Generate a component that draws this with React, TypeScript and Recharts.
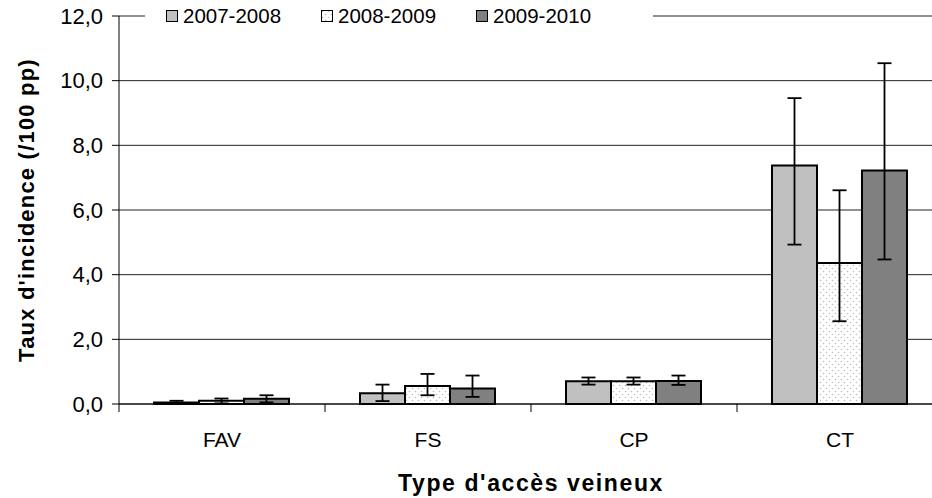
import React from "react";
import {
  BarChart,
  Bar,
  XAxis,
  YAxis,
  CartesianGrid,
  ErrorBar,
  Legend,
} from "recharts";

// Categories (vascular access type) and the three seasons.
const categories = ["FAV", "FS", "CP", "CT"];
const seasons = ["2007-2008", "2008-2009", "2009-2010"];

// Incidence rate (/100 pp) per category, one array per season.
const rate0708 = [0.05, 0.33, 0.7, 7.38];
const rate0809 = [0.1, 0.56, 0.7, 4.36];
const rate0910 = [0.16, 0.48, 0.71, 7.22];

// Confidence interval bounds per season.
const low0708 = [0.01, 0.09, 0.6, 4.93];
const high0708 = [0.1, 0.6, 0.82, 9.46];
const low0809 = [0.02, 0.27, 0.6, 2.56];
const high0809 = [0.17, 0.93, 0.82, 6.61];
const low0910 = [0.05, 0.22, 0.59, 4.47];
const high0910 = [0.27, 0.88, 0.88, 10.54];

const yTicks = [0, 2, 4, 6, 8, 10, 12];

const FONT = "'Liberation Sans', Arial, sans-serif";
const BAND = 206; // width of one category band in px

const fills = ["#c0c0c0", "url(#dots)", "#808080"];

// Build the rows Recharts needs; error bars as [below, above] deltas.
const data = categories.map((cat, i) => ({
  cat,
  s0: rate0708[i],
  s1: rate0809[i],
  s2: rate0910[i],
  e0: [rate0708[i] - low0708[i], high0708[i] - rate0708[i]],
  e1: [rate0809[i] - low0809[i], high0809[i] - rate0809[i]],
  e2: [rate0910[i] - low0910[i], high0910[i] - rate0910[i]],
}));

const fmt = (v: number) => v.toFixed(1).replace(".", ",");

const CatTick = (props: any) => {
  const { x, y, payload } = props;
  const left = x - BAND / 2;
  return (
    <g>
      <line x1={left} y1={y} x2={left} y2={y + 8} stroke="#000" />
      <text x={x} y={y + 43} textAnchor="middle" fontSize={21} fontFamily={FONT} fill="#000">
        {payload.value}
      </text>
    </g>
  );
};

const YTitle = (props: any) => {
  const vb = props.viewBox;
  const cy = vb.y + vb.height / 2;
  const cx = 34;
  return (
    <text
      x={cx}
      y={cy}
      transform={`rotate(-90, ${cx}, ${cy})`}
      textAnchor="middle"
      fontSize={22}
      fontWeight="bold"
      letterSpacing={1.2}
      fontFamily={FONT}
      fill="#000"
    >
      Taux d'incidence (/100 pp)
    </text>
  );
};

const renderLegend = () => (
  <div
    style={{
      display: "flex",
      alignItems: "center",
      background: "#fff",
      height: 24,
      paddingLeft: 21,
      boxSizing: "border-box",
      fontFamily: FONT,
      fontSize: 20.5,
      color: "#000",
    }}
  >
    {seasons.map((s, i) => (
      <div key={s} style={{ display: "flex", alignItems: "center", width: 155 }}>
        <svg width={12} height={12} style={{ marginRight: 5 }}>
          <rect x={0.5} y={0.5} width={11} height={11} fill={fills[i]} stroke="#000" />
        </svg>
        <span>{s}</span>
      </div>
    ))}
  </div>
);

const App: React.FC = () => {
  return (
    <div
      style={{
        position: "absolute",
        left: 0,
        top: 0,
        width: 932,
        height: 498,
        overflow: "hidden",
        background: "#fff",
      }}
    >
      <BarChart
        width={960}
        height={498}
        data={data}
        margin={{ top: 16, right: 17, bottom: 0, left: 0 }}
        barGap={0}
        barCategoryGap={35}
      >
        <defs>
          <pattern id="dots" width={6} height={6} patternUnits="userSpaceOnUse">
            <rect width={6} height={6} fill="#fff" />
            <circle cx={1.5} cy={1.5} r={0.8} fill="#bdbdbd" />
            <circle cx={4.5} cy={4.5} r={0.8} fill="#bdbdbd" />
          </pattern>
        </defs>
        <CartesianGrid vertical={false} stroke="#222" />
        <XAxis
          dataKey="cat"
          height={94}
          tickSize={0}
          tickMargin={0}
          tickLine={false}
          axisLine={{ stroke: "#000" }}
          tick={<CatTick />}
          label={{
            value: "Type d'accès veineux",
            position: "insideBottom",
            offset: 7,
            fontSize: 23,
            fontWeight: "bold",
            letterSpacing: 1.6,
            fontFamily: FONT,
            fill: "#000",
          }}
        />
        <YAxis
          width={119}
          domain={[0, 12]}
          ticks={yTicks}
          interval={0}
          tickFormatter={fmt}
          tickSize={7}
          tickMargin={9}
          axisLine={{ stroke: "#000" }}
          tickLine={{ stroke: "#000" }}
          tick={{ fontSize: 22, fontFamily: FONT, fill: "#000" }}
          label={{ content: <YTitle /> }}
        />
        <Legend
          verticalAlign="middle"
          align="center"
          content={renderLegend}
          wrapperStyle={{ top: 4, left: 145, width: 508, height: 24 }}
        />
        <Bar dataKey="s0" fill={fills[0]} stroke="#000" strokeWidth={2} isAnimationActive={false}>
          <ErrorBar dataKey="e0" width={7} stroke="#000" strokeWidth={1.8} direction="y" isAnimationActive={false} />
        </Bar>
        <Bar dataKey="s1" fill={fills[1]} stroke="#000" strokeWidth={2} isAnimationActive={false}>
          <ErrorBar dataKey="e1" width={7} stroke="#000" strokeWidth={1.8} direction="y" isAnimationActive={false} />
        </Bar>
        <Bar dataKey="s2" fill={fills[2]} stroke="#000" strokeWidth={2} isAnimationActive={false}>
          <ErrorBar dataKey="e2" width={7} stroke="#000" strokeWidth={1.8} direction="y" isAnimationActive={false} />
        </Bar>
      </BarChart>
    </div>
  );
};

export default App;
